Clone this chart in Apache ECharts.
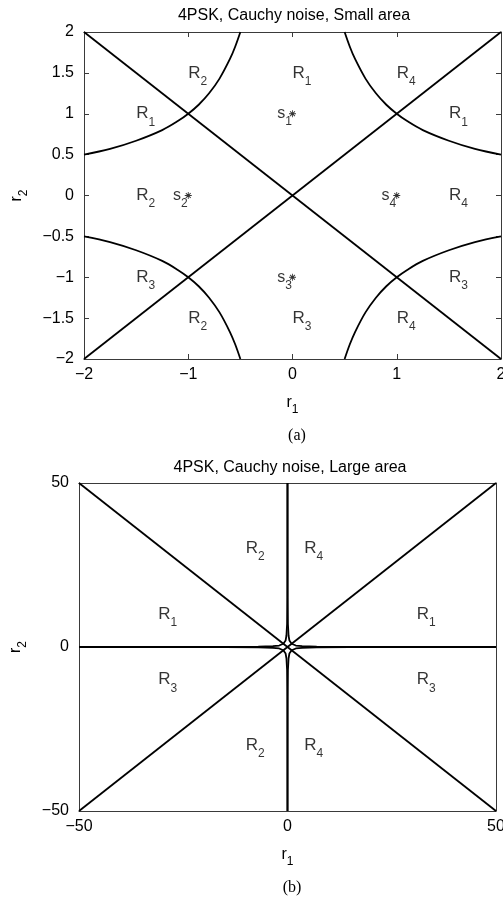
<!DOCTYPE html>
<html>
<head>
<meta charset="utf-8">
<script src="https://cdn.jsdelivr.net/npm/echarts@6/dist/echarts.min.js"></script>
<style>
  html, body { margin: 0; padding: 0; background: #fff; }
  #chart { width: 503px; height: 901px; }
</style>
</head>
<body>
<div id="chart"></div>
<script>
// ---- Panel (a): small area, decision boundaries ----
const smallTicksX = [-2, -1, 0, 1, 2];
const smallTicksY = [-2, -1.5, -1, -0.5, 0, 0.5, 1, 1.5, 2];
const smallDiagUp = [[-2, -2], [2, 2]];
const smallDiagDown = [[-2, 2], [2, -2]];
const smallCurveUL = [[-2, 0.5], [-1.75, 0.57], [-1.5, 0.67], [-1.25, 0.8], [-1.1, 0.91], [-1, 1], [-0.9, 1.11], [-0.8, 1.25], [-0.7, 1.43], [-0.6, 1.67], [-0.55, 1.82], [-0.5, 2]];
const smallCurveUR = [[0.5, 2], [0.55, 1.82], [0.6, 1.67], [0.7, 1.43], [0.8, 1.25], [0.9, 1.11], [1, 1], [1.1, 0.91], [1.25, 0.8], [1.5, 0.67], [1.75, 0.57], [2, 0.5]];
const smallCurveLL = [[-2, -0.5], [-1.75, -0.57], [-1.5, -0.67], [-1.25, -0.8], [-1.1, -0.91], [-1, -1], [-0.9, -1.11], [-0.8, -1.25], [-0.7, -1.43], [-0.6, -1.67], [-0.55, -1.82], [-0.5, -2]];
const smallCurveLR = [[0.5, -2], [0.55, -1.82], [0.6, -1.67], [0.7, -1.43], [0.8, -1.25], [0.9, -1.11], [1, -1], [1.1, -0.91], [1.25, -0.8], [1.5, -0.67], [1.75, -0.57], [2, -0.5]];
// region labels: [r1, r2, index]
const smallRegions = [
  [-1, 1.5, '2'], [0, 1.5, '1'], [1, 1.5, '4'],
  [-1.5, 1, '1'], [1.5, 1, '1'],
  [-1.5, 0, '2'], [1.5, 0, '4'],
  [-1.5, -1, '3'], [1.5, -1, '3'],
  [-1, -1.5, '2'], [0, -1.5, '3'], [1, -1.5, '4']
];
// constellation points s_i
const symbolPoints = [[0, 1, '1'], [-1, 0, '2'], [0, -1, '3'], [1, 0, '4']];

// ---- Panel (b): large area ----
const largeTicks = [-50, 0, 50];
const largeDiagUp = [[-50, -50], [50, 50]];
const largeDiagDown = [[-50, 50], [50, -50]];
const largeCurveUR = [[0.01, 50], [0.04, 15], [0.1, 7], [0.25, 3.5], [0.45, 2], [1, 1], [2, 0.45], [3.5, 0.25], [7, 0.1], [15, 0.04], [50, 0.01]];
const largeCurveUL = [[-0.01, 50], [-0.04, 15], [-0.1, 7], [-0.25, 3.5], [-0.45, 2], [-1, 1], [-2, 0.45], [-3.5, 0.25], [-7, 0.1], [-15, 0.04], [-50, 0.01]];
const largeCurveLR = [[0.01, -50], [0.04, -15], [0.1, -7], [0.25, -3.5], [0.45, -2], [1, -1], [2, -0.45], [3.5, -0.25], [7, -0.1], [15, -0.04], [50, -0.01]];
const largeCurveLL = [[-0.01, -50], [-0.04, -15], [-0.1, -7], [-0.25, -3.5], [-0.45, -2], [-1, -1], [-2, -0.45], [-3.5, -0.25], [-7, -0.1], [-15, -0.04], [-50, -0.01]];
const largeRegions = [
  [-10, 30, '2'], [4, 30, '4'],
  [-31, 10, '1'], [31, 10, '1'],
  [-31, -10, '3'], [31, -10, '3'],
  [-10, -30, '2'], [4, -30, '4']
];

const SANS = '"Liberation Sans", Arial, Helvetica, sans-serif';
const SERIF = '"Liberation Serif", "Times New Roman", serif';
const FRAME = '#3a3a3a';

const minus = v => String(v).replace('-', '\u2212');

function makeAxis(kind, gridIndex, pos, min, max, interval, labelled, nameText, nameGap) {
  const ax = {
    type: 'value', gridIndex, position: pos, min, max, interval,
    splitLine: { show: false },
    axisLine: { show: true, onZero: false, lineStyle: { color: FRAME, width: 1 } },
    axisTick: { show: true, inside: true, length: 5, lineStyle: { color: FRAME, width: 1 } },
    axisLabel: {
      show: labelled, color: '#000', fontFamily: SANS, fontSize: 16,
      margin: kind === 'x' ? 8 : 10, formatter: minus,
      showMinLabel: true, showMaxLabel: true, hideOverlap: false
    }
  };
  if (nameText) {
    ax.name = nameText;
    ax.nameLocation = 'middle';
    ax.nameGap = nameGap;
    ax.nameRotate = kind === 'y' ? 90 : 0;
    ax.nameTextStyle = {
      color: '#000', fontFamily: SANS,
      rich: {
        r: { fontSize: 16, fontFamily: SANS, color: '#000', lineHeight: 16, verticalAlign: 'top' },
        s: { fontSize: 12, fontFamily: SANS, color: '#000', lineHeight: 21, verticalAlign: 'bottom' }
      }
    };
  }
  return ax;
}

function boundary(xi, yi, data, smooth) {
  return {
    type: 'line', xAxisIndex: xi, yAxisIndex: yi, data,
    showSymbol: false, symbol: 'none', smooth: smooth, clip: true,
    lineStyle: { color: '#000', width: 1.8 }, silent: true, z: 3
  };
}

const richSub = {
  r: { fontSize: 17, fontFamily: SANS, color: '#000', lineHeight: 17, verticalAlign: 'top' },
  s: { fontSize: 12, fontFamily: SANS, color: '#000', lineHeight: 23, verticalAlign: 'bottom' }
};

function regionLabels(xi, yi, rows) {
  return {
    type: 'scatter', xAxisIndex: xi, yAxisIndex: yi, symbolSize: 0, silent: true, z: 4,
    data: rows.map(r => ({ value: [r[0], r[1]], name: r[2] })),
    label: {
      show: true, position: 'right', distance: 0, offset: [0, 3],
      formatter: p => '{r|R}{s|' + p.name + '}', rich: richSub
    }
  };
}

const asterisk = 'path://M-0.6,-5L0.6,-5L0.6,5L-0.6,5Z M-5,-0.6L5,-0.6L5,0.6L-5,0.6Z M-3.9,-3L-3,-3.9L3.9,3L3,3.9Z M3,-3.9L3.9,-3L-3,3.9L-3.9,3Z';

const option = {
  backgroundColor: '#fff',
  animation: false,
  title: [
    { text: '4PSK, Cauchy noise, Small area', left: 289, top: 3, textAlign: 'center',
      textStyle: { fontFamily: SANS, fontSize: 16, fontWeight: 'normal', color: '#000' } },
    { text: '(a)', left: 292, top: 423, textAlign: 'center',
      textStyle: { fontFamily: SERIF, fontSize: 16, fontWeight: 'normal', color: '#000' } },
    { text: '4PSK, Cauchy noise, Large area', left: 285, top: 455, textAlign: 'center',
      textStyle: { fontFamily: SANS, fontSize: 16, fontWeight: 'normal', color: '#000' } },
    { text: '(b)', left: 287, top: 875, textAlign: 'center',
      textStyle: { fontFamily: SERIF, fontSize: 16, fontWeight: 'normal', color: '#000' } }
  ],
  grid: [
    { left: 84, top: 32, width: 417, height: 327, containLabel: false, outerBoundsMode: 'none' },
    { left: 79, top: 483, width: 417, height: 328, containLabel: false, outerBoundsMode: 'none' }
  ],
  xAxis: [
    makeAxis('x', 0, 'bottom', -2, 2, 1, true, '{r|r}{s|1}', 36),
    makeAxis('x', 0, 'top', -2, 2, 1, false),
    makeAxis('x', 1, 'bottom', -50, 50, 50, true, '{r|r}{s|1}', 36),
    makeAxis('x', 1, 'top', -50, 50, 50, false)
  ],
  yAxis: [
    makeAxis('y', 0, 'left', -2, 2, 0.5, true, '{r|r}{s|2}', 54),
    makeAxis('y', 0, 'right', -2, 2, 0.5, false),
    makeAxis('y', 1, 'left', -50, 50, 50, true, '{r|r}{s|2}', 50),
    makeAxis('y', 1, 'right', -50, 50, 50, false)
  ],
  series: [
    boundary(0, 0, smallDiagUp, false),
    boundary(0, 0, smallDiagDown, false),
    boundary(0, 0, smallCurveUL, 0.35),
    boundary(0, 0, smallCurveUR, 0.35),
    boundary(0, 0, smallCurveLL, 0.35),
    boundary(0, 0, smallCurveLR, 0.35),
    regionLabels(0, 0, smallRegions),
    {
      type: 'scatter', xAxisIndex: 0, yAxisIndex: 0, silent: true, z: 5,
      symbol: asterisk, symbolSize: 7,
      itemStyle: { color: '#000' },
      data: symbolPoints.map(r => ({ value: [r[0], r[1]], name: r[2] })),
      label: {
        show: true, position: 'left', distance: 0, offset: [3, 3],
        formatter: p => '{r|s}{s|' + p.name + '}',
        rich: {
          r: { fontSize: 16, fontFamily: SANS, color: '#000', lineHeight: 16, verticalAlign: 'top' },
          s: { fontSize: 12, fontFamily: SANS, color: '#000', lineHeight: 22, verticalAlign: 'bottom' }
        }
      }
    },
    boundary(2, 2, largeDiagUp, false),
    boundary(2, 2, largeDiagDown, false),
    boundary(2, 2, largeCurveUR, false),
    boundary(2, 2, largeCurveUL, false),
    boundary(2, 2, largeCurveLR, false),
    boundary(2, 2, largeCurveLL, false),
    regionLabels(2, 2, largeRegions)
  ]
};

const chart = echarts.init(document.getElementById('chart'), null, { renderer: 'canvas' });
chart.setOption(option);
</script>
</body>
</html>
